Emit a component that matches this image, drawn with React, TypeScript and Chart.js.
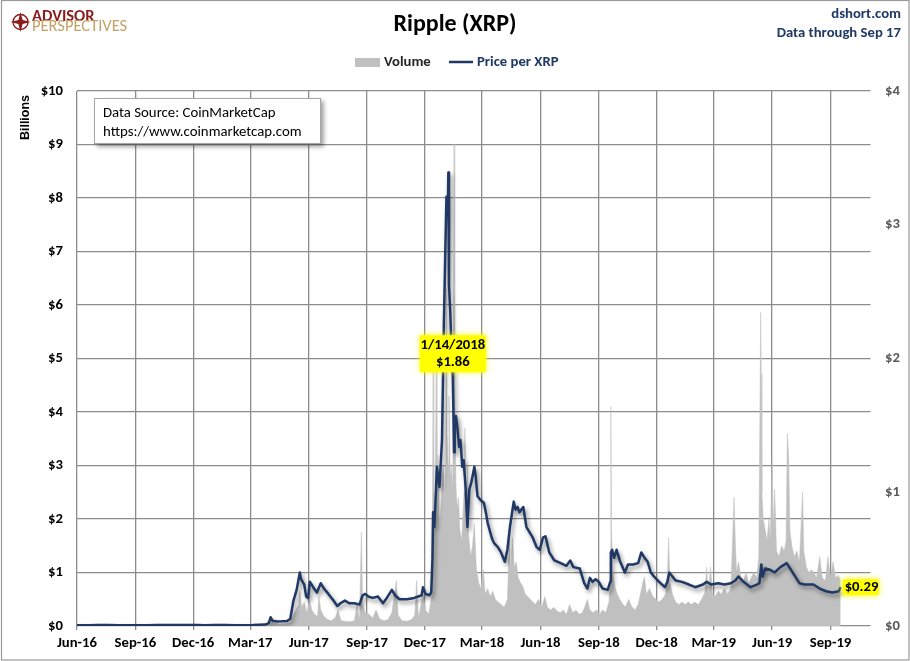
import React, { useEffect, useRef } from 'react';
import { Chart, registerables } from 'chart.js';

Chart.register(...registerables);

const FONT = 'Carlito, Calibri, "Liberation Sans Narrow", Lato, Roboto, "Noto Sans", sans-serif';
const NAVY = '#1F3864';
const GRID = '#8C8C8C';
const VOL_GRAY = '#C0C0C0';

// Axis calendar
const axisStartDate = '2016-06-01';
const axisEndDate = '2019-11-03';
const quarterDates = ['2016-06-01', '2016-09-01', '2016-12-01', '2017-03-01', '2017-06-01', '2017-09-01', '2017-12-01', '2018-03-01', '2018-06-01', '2018-09-01', '2018-12-01', '2019-03-01', '2019-06-01', '2019-09-01'];
const quarterLabels = ['Jun-16', 'Sep-16', 'Dec-16', 'Mar-17', 'Jun-17', 'Sep-17', 'Dec-17', 'Mar-18', 'Jun-18', 'Sep-18', 'Dec-18', 'Mar-19', 'Jun-19', 'Sep-19'];
const leftTicks = [0, 1, 2, 3, 4, 5, 6, 7, 8, 9, 10];
const rightTicks = [0, 1, 2, 3, 4];

// Price per XRP (USD)
const priceDates = [
  '2016-06-01', '2016-06-20', '2016-07-05', '2016-07-20', '2016-08-05', '2016-08-20', '2016-09-05', '2016-09-20',
  '2016-10-05', '2016-10-20', '2016-11-05', '2016-11-20', '2016-12-05', '2016-12-20', '2017-01-05', '2017-01-20',
  '2017-02-05', '2017-02-20', '2017-03-05', '2017-03-15', '2017-03-25', '2017-03-30', '2017-04-02', '2017-04-05',
  '2017-04-12', '2017-04-20', '2017-04-28', '2017-05-03', '2017-05-08', '2017-05-13', '2017-05-18', '2017-05-20',
  '2017-05-25', '2017-05-28', '2017-05-31', '2017-06-03', '2017-06-08', '2017-06-14', '2017-06-20', '2017-06-25',
  '2017-07-02', '2017-07-10', '2017-07-16', '2017-07-21', '2017-07-28', '2017-08-04', '2017-08-12', '2017-08-20',
  '2017-08-25', '2017-08-29', '2017-09-03', '2017-09-10', '2017-09-18', '2017-09-26', '2017-10-02', '2017-10-10',
  '2017-10-15', '2017-10-22', '2017-11-03', '2017-11-14', '2017-11-26', '2017-11-28', '2017-12-02', '2017-12-08',
  '2017-12-11', '2017-12-13', '2017-12-14', '2017-12-16', '2017-12-20', '2017-12-24', '2017-12-28', '2017-12-31',
  '2018-01-02', '2018-01-04', '2018-01-06', '2018-01-07', '2018-01-08', '2018-01-10', '2018-01-12', '2018-01-14',
  '2018-01-15', '2018-01-16', '2018-01-17', '2018-01-19', '2018-01-21', '2018-01-24', '2018-01-26', '2018-01-29',
  '2018-01-31', '2018-02-03', '2018-02-06', '2018-02-09', '2018-02-12', '2018-02-17', '2018-02-19', '2018-02-22',
  '2018-02-27', '2018-03-04', '2018-03-07', '2018-03-10', '2018-03-14', '2018-03-17', '2018-03-20', '2018-03-26',
  '2018-03-31', '2018-04-06', '2018-04-10', '2018-04-14', '2018-04-20', '2018-04-23', '2018-04-26', '2018-04-29',
  '2018-05-05', '2018-05-10', '2018-05-15', '2018-05-20', '2018-05-26', '2018-05-31', '2018-06-05', '2018-06-09',
  '2018-06-15', '2018-06-23', '2018-07-03', '2018-07-12', '2018-07-18', '2018-07-23', '2018-08-02', '2018-08-09',
  '2018-08-14', '2018-08-18', '2018-08-22', '2018-08-27', '2018-09-01', '2018-09-07', '2018-09-15', '2018-09-19',
  '2018-09-20', '2018-09-22', '2018-09-25', '2018-09-29', '2018-10-04', '2018-10-12', '2018-10-17', '2018-10-25',
  '2018-11-02', '2018-11-07', '2018-11-12', '2018-11-17', '2018-11-22', '2018-11-27', '2018-12-05', '2018-12-14',
  '2018-12-18', '2018-12-21', '2018-12-26', '2018-12-31', '2019-01-10', '2019-01-21', '2019-01-31', '2019-02-12',
  '2019-02-18', '2019-02-25', '2019-03-08', '2019-03-18', '2019-03-28', '2019-04-04', '2019-04-09', '2019-04-17',
  '2019-04-28', '2019-05-08', '2019-05-12', '2019-05-15', '2019-05-17', '2019-05-21', '2019-05-29', '2019-06-05',
  '2019-06-14', '2019-06-24', '2019-06-28', '2019-07-06', '2019-07-14', '2019-07-22', '2019-08-05', '2019-08-15',
  '2019-08-25', '2019-09-04', '2019-09-14', '2019-09-17',
];
const priceValues = [
  0.0060, 0.0063, 0.0068, 0.0066, 0.0062, 0.0060, 0.0059, 0.0062,
  0.0075, 0.0078, 0.0080, 0.0077, 0.0070, 0.0065, 0.0068, 0.0067,
  0.0065, 0.0063, 0.0066, 0.0090, 0.0110, 0.0220, 0.065, 0.040,
  0.034, 0.035, 0.037, 0.055, 0.19, 0.27, 0.40, 0.35,
  0.31, 0.22, 0.21, 0.33, 0.29, 0.25, 0.32, 0.28,
  0.24, 0.19, 0.15, 0.17, 0.19, 0.17, 0.17, 0.16,
  0.23, 0.24, 0.22, 0.21, 0.22, 0.17, 0.21, 0.27,
  0.23, 0.20, 0.20, 0.21, 0.23, 0.29, 0.24, 0.23,
  0.25, 0.50, 0.85, 0.74, 1.19, 1.04, 1.39, 2.27,
  2.75, 3.21, 3.06, 3.39, 2.55, 2.35, 2.05, 1.86,
  1.60, 1.30, 1.55, 1.57, 1.49, 1.34, 1.39, 1.19,
  1.24, 1.05, 0.74, 1.02, 1.07, 1.19, 1.12, 0.97,
  0.94, 0.92, 0.85, 0.77, 0.70, 0.65, 0.62, 0.59,
  0.55, 0.48, 0.57, 0.74, 0.93, 0.87, 0.89, 0.85,
  0.89, 0.74, 0.70, 0.66, 0.59, 0.57, 0.66, 0.67,
  0.55, 0.49, 0.47, 0.45, 0.49, 0.44, 0.43, 0.32,
  0.28, 0.36, 0.33, 0.35, 0.33, 0.28, 0.27, 0.33,
  0.55, 0.57, 0.51, 0.57, 0.49, 0.40, 0.46, 0.46,
  0.47, 0.55, 0.51, 0.48, 0.40, 0.37, 0.33, 0.29,
  0.33, 0.40, 0.37, 0.34, 0.33, 0.31, 0.29, 0.31,
  0.33, 0.31, 0.32, 0.31, 0.32, 0.34, 0.37, 0.33,
  0.29, 0.31, 0.32, 0.46, 0.37, 0.43, 0.42, 0.40,
  0.44, 0.47, 0.44, 0.38, 0.32, 0.31, 0.31, 0.28,
  0.26, 0.25, 0.26, 0.29,
];

// Trading volume (USD billions)
const volumeDates = [
  '2016-06-01', '2016-07-01', '2016-08-01', '2016-09-01', '2016-10-01', '2016-11-01', '2016-12-01', '2017-01-01',
  '2017-02-01', '2017-03-01', '2017-03-20', '2017-03-30', '2017-04-02', '2017-04-06', '2017-04-15', '2017-04-25',
  '2017-05-03', '2017-05-08', '2017-05-12', '2017-05-16', '2017-05-18', '2017-05-21', '2017-05-25', '2017-05-29',
  '2017-06-02', '2017-06-06', '2017-06-10', '2017-06-15', '2017-06-17', '2017-06-20', '2017-06-25', '2017-07-01',
  '2017-07-07', '2017-07-13', '2017-07-17', '2017-07-22', '2017-07-28', '2017-08-05', '2017-08-12', '2017-08-16',
  '2017-08-20', '2017-08-23', '2017-08-25', '2017-08-29', '2017-09-04', '2017-09-10', '2017-09-15', '2017-09-21',
  '2017-09-28', '2017-10-04', '2017-10-10', '2017-10-17', '2017-10-20', '2017-10-26', '2017-11-03', '2017-11-10',
  '2017-11-15', '2017-11-18', '2017-11-21', '2017-11-28', '2017-12-02', '2017-12-07', '2017-12-11', '2017-12-13',
  '2017-12-14', '2017-12-15', '2017-12-17', '2017-12-19', '2017-12-20', '2017-12-22', '2017-12-24', '2017-12-26',
  '2017-12-28', '2017-12-30', '2018-01-01', '2018-01-03', '2018-01-04', '2018-01-05', '2018-01-07', '2018-01-08',
  '2018-01-10', '2018-01-12', '2018-01-14', '2018-01-16', '2018-01-17', '2018-01-19', '2018-01-21', '2018-01-23',
  '2018-01-25', '2018-01-28', '2018-01-30', '2018-02-01', '2018-02-02', '2018-02-04', '2018-02-06', '2018-02-08',
  '2018-02-11', '2018-02-14', '2018-02-17', '2018-02-20', '2018-02-24', '2018-02-27', '2018-03-03', '2018-03-06',
  '2018-03-10', '2018-03-14', '2018-03-18', '2018-03-22', '2018-03-26', '2018-03-31', '2018-04-05', '2018-04-10',
  '2018-04-13', '2018-04-15', '2018-04-18', '2018-04-21', '2018-04-24', '2018-04-27', '2018-05-01', '2018-05-04',
  '2018-05-08', '2018-05-12', '2018-05-16', '2018-05-20', '2018-05-24', '2018-05-29', '2018-06-03', '2018-06-08',
  '2018-06-12', '2018-06-17', '2018-06-22', '2018-06-27', '2018-07-02', '2018-07-07', '2018-07-12', '2018-07-17',
  '2018-07-22', '2018-07-27', '2018-08-01', '2018-08-06', '2018-08-10', '2018-08-14', '2018-08-18', '2018-08-23',
  '2018-08-28', '2018-09-02', '2018-09-07', '2018-09-12', '2018-09-17', '2018-09-19', '2018-09-20', '2018-09-21',
  '2018-09-23', '2018-09-26', '2018-09-30', '2018-10-04', '2018-10-09', '2018-10-13', '2018-10-18', '2018-10-23',
  '2018-10-28', '2018-11-02', '2018-11-06', '2018-11-09', '2018-11-12', '2018-11-15', '2018-11-20', '2018-11-25',
  '2018-11-30', '2018-12-05', '2018-12-10', '2018-12-15', '2018-12-18', '2018-12-20', '2018-12-22', '2018-12-26',
  '2018-12-31', '2019-01-05', '2019-01-10', '2019-01-15', '2019-01-20', '2019-01-25', '2019-01-30', '2019-02-05',
  '2019-02-10', '2019-02-15', '2019-02-18', '2019-02-20', '2019-02-24', '2019-02-27', '2019-03-03', '2019-03-08',
  '2019-03-13', '2019-03-18', '2019-03-23', '2019-03-28', '2019-04-02', '2019-04-04', '2019-04-06', '2019-04-09',
  '2019-04-13', '2019-04-17', '2019-04-21', '2019-04-25', '2019-04-29', '2019-05-03', '2019-05-08', '2019-05-11',
  '2019-05-14', '2019-05-15', '2019-05-16', '2019-05-18', '2019-05-21', '2019-05-24', '2019-05-27', '2019-05-29',
  '2019-06-01', '2019-06-03', '2019-06-05', '2019-06-08', '2019-06-12', '2019-06-16', '2019-06-20', '2019-06-23',
  '2019-06-25', '2019-06-27', '2019-06-29', '2019-07-02', '2019-07-06', '2019-07-10', '2019-07-14', '2019-07-19',
  '2019-07-21', '2019-07-25', '2019-07-29', '2019-08-02', '2019-08-06', '2019-08-10', '2019-08-15', '2019-08-19',
  '2019-08-24', '2019-08-28', '2019-09-01', '2019-09-05', '2019-09-09', '2019-09-13', '2019-09-17',
];
const volumeValues = [
  0.003, 0.004, 0.003, 0.003, 0.006, 0.005, 0.004, 0.004,
  0.003, 0.004, 0.01, 0.04, 0.15, 0.06, 0.04, 0.05,
  0.08, 0.22, 0.30, 0.40, 0.65, 0.35, 0.45, 0.25,
  0.50, 0.30, 0.22, 0.18, 0.55, 0.30, 0.18, 0.12,
  0.10, 0.16, 0.30, 0.10, 0.09, 0.08, 0.10, 0.40,
  0.12, 1.75, 0.40, 0.25, 0.22, 0.15, 0.30, 0.13,
  0.10, 0.12, 0.25, 0.85, 0.20, 0.10, 0.09, 0.12,
  0.20, 0.85, 0.15, 0.60, 0.30, 0.22, 0.50, 2.20,
  4.90, 2.60, 1.80, 5.40, 2.90, 3.20, 1.90, 2.20,
  2.60, 3.00, 2.40, 3.10, 6.30, 3.60, 3.00, 4.30,
  2.80, 3.00, 2.50, 9.00, 4.60, 2.60, 2.20, 2.40,
  1.80, 1.60, 2.10, 2.50, 3.70, 2.00, 3.00, 1.70,
  1.30, 1.50, 1.90, 1.10, 0.80, 0.70, 1.05, 0.60,
  0.70, 0.55, 0.65, 0.50, 0.45, 0.40, 0.35, 0.50,
  1.60, 1.00, 1.65, 1.10, 1.20, 0.90, 0.80, 0.75,
  0.60, 0.55, 0.50, 0.45, 0.40, 0.50, 0.35, 0.55,
  0.35, 0.30, 0.35, 0.28, 0.25, 0.30, 0.22, 0.40,
  0.25, 0.30, 0.22, 0.25, 0.36, 0.50, 0.30, 0.25,
  0.30, 0.22, 0.30, 0.25, 0.45, 0.90, 4.10, 1.80,
  1.05, 0.75, 0.60, 0.50, 0.40, 0.36, 0.50, 0.36,
  0.30, 0.40, 0.62, 0.80, 0.92, 0.60, 0.70, 0.55,
  0.50, 0.45, 0.50, 0.60, 0.90, 1.65, 0.80, 0.60,
  0.45, 0.40, 0.45, 0.40, 0.45, 0.40, 0.45, 0.40,
  0.50, 0.62, 1.10, 0.60, 1.10, 0.60, 0.55, 0.65,
  0.60, 0.70, 0.60, 0.70, 2.40, 1.60, 1.00, 1.20,
  0.90, 0.85, 1.00, 0.80, 0.90, 1.00, 0.90, 1.30,
  5.86, 4.70, 2.50, 2.00, 1.80, 1.60, 2.00, 1.60,
  3.05, 1.80, 2.55, 1.40, 1.30, 1.50, 1.40, 1.60,
  3.60, 3.20, 1.80, 1.50, 1.30, 1.40, 1.20, 2.50,
  1.40, 1.10, 1.00, 1.05, 1.00, 0.90, 1.30, 0.90,
  0.85, 1.30, 0.90, 1.20, 0.90, 0.95, 0.85,
];

// Call-outs
const peakCallout = { date: '2018-01-14', value: 1.86, lines: ['1/14/2018', '$1.86'] };
const lastCallout = { date: '2019-09-17', value: 0.29, text: '$0.29' };

const BASE = Date.UTC(2016, 5, 1);
const dayNum = (s: string) => {
  const [y, m, d] = s.split('-').map(Number);
  return (Date.UTC(y, m - 1, d) - BASE) / 86400000;
};

const decorPlugin = {
  id: 'decor',
  beforeDraw(chart: any) {
    const ctx = chart.ctx;
    ctx.save();
    ctx.fillStyle = '#fff';
    ctx.fillRect(0, 0, chart.width, chart.height);
    ctx.restore();
  },
  beforeDatasetDraw(chart: any, args: any) {
    if (chart.data.datasets[args.index].label === 'Price per XRP') {
      const ctx = chart.ctx;
      ctx.save();
      ctx.shadowColor = 'rgba(0,0,0,0.45)';
      ctx.shadowBlur = 4;
      ctx.shadowOffsetX = 2;
      ctx.shadowOffsetY = 3;
    }
  },
  afterDatasetDraw(chart: any, args: any) {
    if (chart.data.datasets[args.index].label === 'Price per XRP') {
      chart.ctx.restore();
    }
  },
  afterDraw(chart: any) {
    const ctx = chart.ctx;
    const xs = chart.scales.x;
    const y1 = chart.scales.y1;
    ctx.save();

    // frame
    ctx.strokeStyle = '#9A9A9A';
    ctx.lineWidth = 1.2;
    ctx.strokeRect(1.5, 0.5, chart.width - 2.5, chart.height - 1.5);

    // logo
    ctx.save();
    ctx.translate(20.5, 22);
    ctx.strokeStyle = '#8B1C1C';
    ctx.fillStyle = '#8B1C1C';
    ctx.lineWidth = 1.4;
    ctx.beginPath();
    ctx.arc(0, 0, 7.5, 0, Math.PI * 2);
    ctx.stroke();
    ctx.beginPath();
    for (let i = 0; i < 8; i++) {
      const a = (i * Math.PI) / 4 - Math.PI / 2;
      const r = i % 2 === 0 ? 10 : 3;
      const px = Math.cos(a) * r;
      const py = Math.sin(a) * r;
      if (i === 0) ctx.moveTo(px, py);
      else ctx.lineTo(px, py);
    }
    ctx.closePath();
    ctx.fill();
    ctx.restore();

    ctx.textBaseline = 'middle';
    ctx.textAlign = 'left';
    ctx.fillStyle = '#8B1C1C';
    ctx.font = `bold 16.5px ${FONT}`;
    ctx.fillText('ADVISOR', 32, 17);
    ctx.fillStyle = '#C4A265';
    ctx.font = `16.5px ${FONT}`;
    ctx.fillText('PERSPECTIVES', 32, 27);

    // title
    ctx.textAlign = 'center';
    ctx.fillStyle = '#000';
    ctx.font = `bold 24px ${FONT}`;
    ctx.fillText('Ripple (XRP)', 455, 25);

    // top right
    ctx.textAlign = 'right';
    ctx.fillStyle = NAVY;
    ctx.font = `bold 14.7px ${FONT}`;
    ctx.fillText('dshort.com', 901, 14);
    ctx.fillText('Data through Sep 17', 901, 33);

    // legend
    ctx.fillStyle = VOL_GRAY;
    ctx.fillRect(355, 58, 25, 9);
    ctx.textAlign = 'left';
    ctx.fillStyle = '#262626';
    ctx.font = `bold 14.7px ${FONT}`;
    ctx.fillText('Volume', 384, 62);
    ctx.strokeStyle = NAVY;
    ctx.lineWidth = 2.5;
    ctx.beginPath();
    ctx.moveTo(449, 62);
    ctx.lineTo(473, 62);
    ctx.stroke();
    ctx.fillStyle = NAVY;
    ctx.fillText('Price per XRP', 477, 62);

    // Billions
    ctx.save();
    ctx.translate(26, 117.5);
    ctx.rotate(-Math.PI / 2);
    ctx.textAlign = 'center';
    ctx.fillStyle = '#000';
    ctx.font = 'bold 12.5px "Liberation Sans", Arial, sans-serif';
    ctx.fillText('Billions', 0, 0);
    ctx.restore();

    // data source box
    ctx.save();
    ctx.shadowColor = 'rgba(0,0,0,0.35)';
    ctx.shadowBlur = 4;
    ctx.shadowOffsetX = 3;
    ctx.shadowOffsetY = 3;
    ctx.fillStyle = '#fff';
    ctx.fillRect(94, 98, 227, 46);
    ctx.restore();
    ctx.strokeStyle = '#A6A6A6';
    ctx.lineWidth = 1;
    ctx.strokeRect(94.5, 98.5, 226, 45);
    ctx.fillStyle = '#000';
    ctx.font = `14.8px ${FONT}`;
    ctx.textAlign = 'left';
    ctx.fillText('Data Source: CoinMarketCap', 103, 113);
    ctx.fillText('https://www.coinmarketcap.com', 103, 132);

    // peak callout
    const px = xs.getPixelForValue(dayNum(peakCallout.date));
    const py = y1.getPixelForValue(peakCallout.value);
    const bw = 66;
    const bh = 37;
    const bx = px - bw / 2;
    const by = py - 42;
    ctx.save();
    ctx.shadowColor = 'rgba(255,255,0,0.9)';
    ctx.shadowBlur = 6;
    ctx.fillStyle = '#FFFF00';
    ctx.fillRect(bx, by, bw, bh);
    ctx.restore();
    ctx.fillStyle = '#000';
    ctx.font = `bold 14.7px ${FONT}`;
    ctx.textAlign = 'center';
    ctx.fillText(peakCallout.lines[0], px, by + 10);
    ctx.fillText(peakCallout.lines[1], px, by + 27);

    // last callout
    const lx = xs.getPixelForValue(dayNum(lastCallout.date));
    const ly = y1.getPixelForValue(lastCallout.value);
    ctx.save();
    ctx.shadowColor = 'rgba(255,255,0,0.9)';
    ctx.shadowBlur = 6;
    ctx.fillStyle = '#FFFF00';
    ctx.fillRect(lx + 2, ly - 8, 36, 16);
    ctx.restore();
    ctx.fillStyle = '#000';
    ctx.textAlign = 'left';
    ctx.fillText(lastCallout.text, lx + 4, ly + 0.5);

    ctx.restore();
  },
};

export default function App() {
  const ref = useRef<HTMLCanvasElement | null>(null);

  useEffect(() => {
    if (!ref.current) return;
    const tickFont = { family: FONT, size: 14.7, weight: 'bold' as const };
    const chart = new Chart(ref.current, {
      type: 'line',
      data: {
        datasets: [
          {
            label: 'Price per XRP',
            data: priceDates.map((d, i) => ({ x: dayNum(d), y: priceValues[i] })),
            yAxisID: 'y1',
            borderColor: NAVY,
            borderWidth: 2.5,
            borderJoinStyle: 'round',
            pointRadius: 0,
            tension: 0,
            fill: false,
            order: 1,
          },
          {
            label: 'Volume',
            data: volumeDates.map((d, i) => ({ x: dayNum(d), y: volumeValues[i] })),
            yAxisID: 'y',
            borderColor: VOL_GRAY,
            borderWidth: 0.5,
            backgroundColor: VOL_GRAY,
            pointRadius: 0,
            tension: 0,
            fill: 'origin',
            order: 2,
          },
        ],
      },
      options: {
        responsive: false,
        animation: false,
        events: [],
        layout: { padding: { top: 91, left: 0, right: 0, bottom: 0 } },
        plugins: {
          legend: { display: false },
          title: { display: false },
          tooltip: { enabled: false },
        },
        scales: {
          x: {
            type: 'linear',
            min: dayNum(axisStartDate),
            max: dayNum(axisEndDate),
            afterBuildTicks: (s: any) => {
              s.ticks = quarterDates.map((d) => ({ value: dayNum(d) }));
            },
            afterFit: (s: any) => {
              s.height = 35;
            },
            ticks: {
              autoSkip: false,
              maxRotation: 0,
              minRotation: 0,
              padding: 5,
              color: '#000',
              font: tickFont,
              callback: (v: any) => {
                const i = quarterDates.findIndex((d) => dayNum(d) === v);
                return i >= 0 ? quarterLabels[i] : '';
              },
            },
            grid: { color: GRID, lineWidth: 1.3, tickLength: 4, drawTicks: true },
            border: { display: false },
          },
          y: {
            position: 'left',
            min: leftTicks[0],
            max: leftTicks[leftTicks.length - 1],
            afterBuildTicks: (s: any) => {
              s.ticks = leftTicks.map((v) => ({ value: v }));
            },
            afterFit: (s: any) => {
              s.width = 77;
            },
            ticks: {
              padding: 14,
              color: '#000',
              font: tickFont,
              callback: (v: any) => '$' + v,
            },
            grid: { color: GRID, lineWidth: 1.3, drawTicks: false },
            border: { display: false },
          },
          y1: {
            position: 'right',
            min: rightTicks[0],
            max: rightTicks[rightTicks.length - 1],
            afterBuildTicks: (s: any) => {
              s.ticks = rightTicks.map((v) => ({ value: v }));
            },
            afterFit: (s: any) => {
              s.width = 39.5;
            },
            ticks: {
              padding: 14.5,
              color: '#595959',
              font: tickFont,
              callback: (v: any) => '$' + v,
            },
            grid: { drawOnChartArea: false, drawTicks: false },
            border: { display: false },
          },
        },
      },
      plugins: [decorPlugin],
    } as any);
    return () => chart.destroy();
  }, []);

  return (
    <div style={{ position: 'fixed', left: 0, top: 0, width: 910, height: 661, background: '#fff' }}>
      <canvas ref={ref} width={910} height={661} style={{ width: 910, height: 661, display: 'block' }} />
    </div>
  );
}
